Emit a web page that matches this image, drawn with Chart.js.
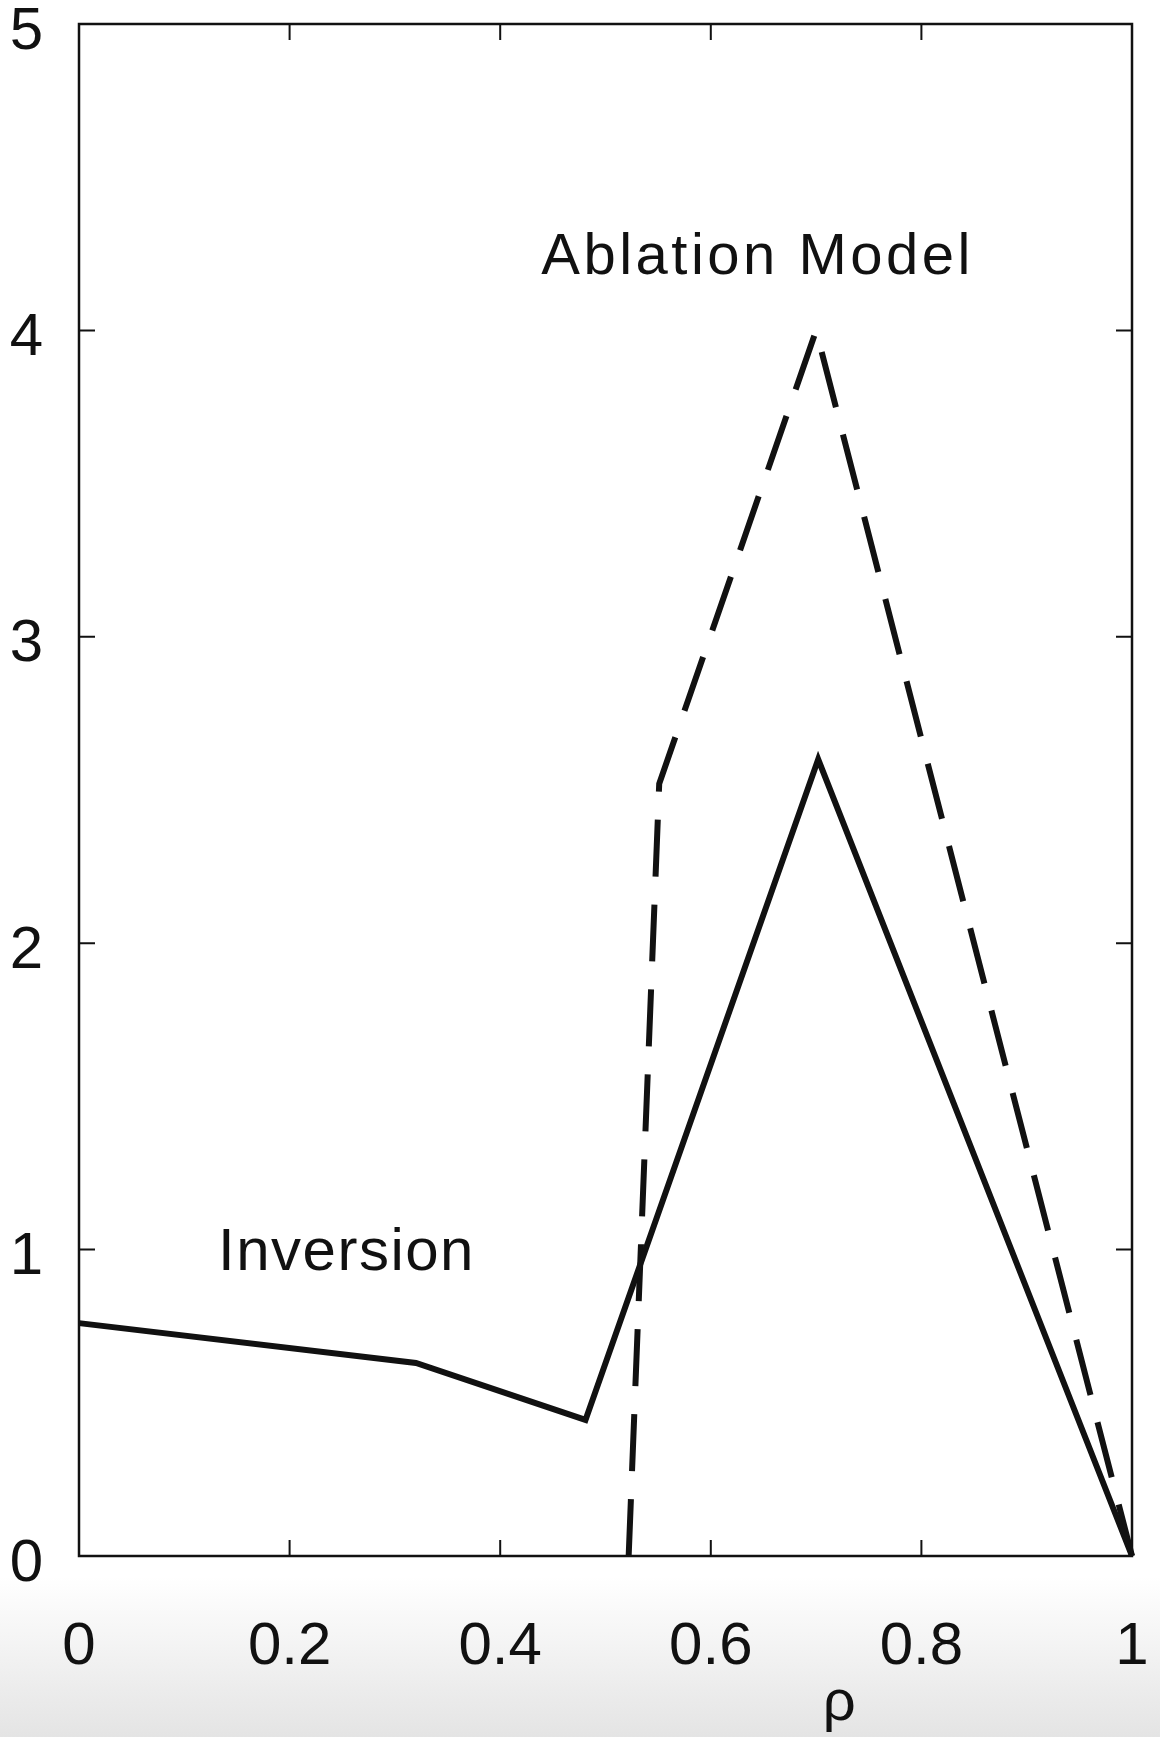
<!DOCTYPE html>
<html lang="en">
<head>
  <meta charset="UTF-8" />
  <title>Inversion vs Ablation Model</title>
  <script src="https://cdn.jsdelivr.net/npm/chart.js"></script>
  <style>
    body { margin: 0; background: #fff; }
    .wrap { width: 1160px; height: 1737px; }
  </style>
</head>
<body>
  <div class="wrap"><canvas id="chart"></canvas></div>

  <script>
    // x positions (rho) and values
    const rhoInversion = [0, 0.32, 0.481, 0.702, 1];
    const valInversion = [0.76, 0.63, 0.444, 2.60, 0];

    const rhoAblation = [0.522, 0.551, 0.70, 1];
    const valAblation = [0, 2.52, 4.0, 0];

    const xTicks = [0, 0.2, 0.4, 0.6, 0.8, 1];
    const xTickLabels = ['0', '0.2', '0.4', '0.6', '0.8', '1'];
    const yTicks = [0, 1, 2, 3, 4, 5];
    const yTickLabels = ['0', '1', '2', '3', '4', '5'];

    const FONT = '"Liberation Sans", Arial, Helvetica, sans-serif';

    function toPoints(xs, ys) {
      return xs.map((x, i) => ({ x: x, y: ys[i] }));
    }

    // stop the scales from adding their own label overflow padding
    function noPad(s) {
      s.paddingTop = 0; s.paddingBottom = 0;
      s.paddingLeft = 0; s.paddingRight = 0;
    }

    // paper background, box, inward ticks and the text labels
    const framePlugin = {
      id: 'frame',
      beforeDraw(chart) {
        const ctx = chart.ctx;
        const h = chart.height;
        ctx.save();
        const g = ctx.createLinearGradient(0, h - 160, 0, h);
        g.addColorStop(0, '#ffffff');
        g.addColorStop(1, '#e4e4e4');
        ctx.fillStyle = '#ffffff';
        ctx.fillRect(0, 0, chart.width, h);
        ctx.fillStyle = g;
        ctx.fillRect(0, h - 160, chart.width, 160);
        ctx.restore();
      },
      afterDatasetsDraw(chart) {
        const ctx = chart.ctx;
        const a = chart.chartArea;
        const xs = chart.scales.x, ys = chart.scales.y;
        ctx.save();
        ctx.strokeStyle = '#111';
        ctx.lineWidth = 2.5;
        ctx.strokeRect(a.left, a.top, a.right - a.left, a.bottom - a.top);

        const tl = 16;
        ctx.lineWidth = 2;
        ctx.beginPath();
        xTicks.slice(1, -1).forEach(v => {
          const px = xs.getPixelForValue(v);
          ctx.moveTo(px, a.bottom); ctx.lineTo(px, a.bottom - tl);
          ctx.moveTo(px, a.top); ctx.lineTo(px, a.top + tl);
        });
        yTicks.slice(1, -1).forEach(v => {
          const py = ys.getPixelForValue(v);
          ctx.moveTo(a.left, py); ctx.lineTo(a.left + tl, py);
          ctx.moveTo(a.right, py); ctx.lineTo(a.right - tl, py);
        });
        ctx.stroke();

        ctx.fillStyle = '#111';
        ctx.textBaseline = 'alphabetic';
        ctx.textAlign = 'left';
        ctx.font = '58px ' + FONT;
        ctx.letterSpacing = '3.5px';
        ctx.fillText('Ablation Model', xs.getPixelForValue(0.439), ys.getPixelForValue(4.185));
        ctx.font = '60px ' + FONT;
        ctx.letterSpacing = '1.5px';
        ctx.fillText('Inversion', xs.getPixelForValue(0.132), ys.getPixelForValue(0.932));

        ctx.letterSpacing = '0px';
        ctx.textAlign = 'center';
        ctx.textBaseline = 'middle';
        ctx.font = '58px ' + FONT;
        ctx.fillText('ρ', xs.getPixelForValue(0.722), a.bottom + 148);
        ctx.restore();
      }
    };

    new Chart(document.getElementById('chart'), {
      type: 'scatter',
      data: {
        datasets: [
          {
            label: 'Inversion',
            data: toPoints(rhoInversion, valInversion),
            showLine: true,
            borderColor: '#111',
            borderWidth: 6,
            borderJoinStyle: 'miter',
            pointRadius: 0,
            clip: 6
          },
          {
            label: 'Ablation Model',
            data: toPoints(rhoAblation, valAblation),
            showLine: true,
            borderColor: '#111',
            borderWidth: 6,
            borderDash: [57, 28],
            borderJoinStyle: 'miter',
            pointRadius: 0,
            clip: 6
          }
        ]
      },
      options: {
        responsive: true,
        maintainAspectRatio: false,
        animation: false,
        layout: { padding: { top: 24, right: 28, left: 0, bottom: 0 } },
        plugins: {
          legend: { display: false },
          tooltip: { enabled: false }
        },
        scales: {
          x: {
            type: 'linear',
            min: 0,
            max: 1,
            afterBuildTicks: s => { s.ticks = xTicks.map(v => ({ value: v })); },
            afterFit: s => { s.height = 181; noPad(s); },
            grid: { display: false, drawTicks: false },
            border: { display: false },
            ticks: {
              color: '#111',
              padding: 55,
              maxRotation: 0,
              autoSkip: false,
              font: { family: FONT, size: 60 },
              callback: (v, i) => xTickLabels[i]
            }
          },
          y: {
            type: 'linear',
            min: 0,
            max: 5,
            afterBuildTicks: s => { s.ticks = yTicks.map(v => ({ value: v })); },
            afterFit: s => { s.width = 79; noPad(s); },
            grid: { display: false, drawTicks: false },
            border: { display: false },
            ticks: {
              color: '#111',
              padding: 36,
              labelOffset: 8,
              autoSkip: false,
              font: { family: FONT, size: 60 },
              callback: (v, i) => yTickLabels[i]
            }
          }
        }
      },
      plugins: [framePlugin]
    });
  </script>
</body>
</html>
